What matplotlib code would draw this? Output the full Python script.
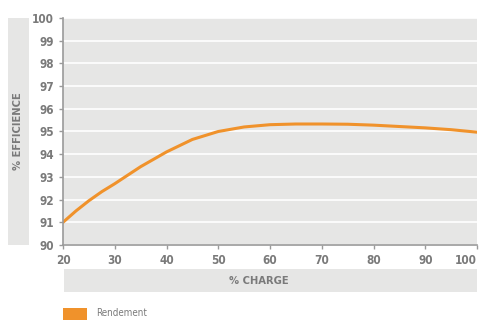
import matplotlib
matplotlib.use('Agg')
import matplotlib.pyplot as plt
from matplotlib.patches import Rectangle

# Data
charge = [20, 22.5, 25, 27.5, 30, 35, 40, 45, 50, 55, 60, 65, 70, 75, 80, 85, 90, 95, 100]
efficiency = [91.0, 91.5, 91.95, 92.35, 92.7, 93.45, 94.1, 94.65, 95.0, 95.2, 95.3, 95.33,
              95.33, 95.32, 95.28, 95.22, 95.16, 95.08, 94.97]
x_ticks = [20, 30, 40, 50, 60, 70, 80, 90, 100]
y_ticks = [90, 91, 92, 93, 94, 95, 96, 97, 98, 99, 100]
series_name = 'Rendement'

ORANGE = '#f0922b'
BG = '#e6e6e5'
TXT = '#7a7a7a'
FONT = 'DejaVu Sans'
STRETCH = 'condensed'

W, H = 479, 320
fig = plt.figure(figsize=(W / 100, H / 100), dpi=100)
fig.patch.set_facecolor('white')


def fx(px):
    return px / W


def fy(py):
    return 1 - py / H


ax = fig.add_axes([fx(63), fy(245), fx(477) - fx(63), fy(18) - fy(245)])
ax.set_facecolor(BG)
ax.plot(charge, efficiency, color=ORANGE, lw=2.2, solid_capstyle='round')

ax.set_xlim(20, 100)
ax.set_ylim(90, 100)
ax.set_xticks(x_ticks)
ax.set_yticks(y_ticks)
ax.grid(axis='y', color='white', lw=1.2)
ax.set_axisbelow(True)
for s in ['top', 'right']:
    ax.spines[s].set_visible(False)
for s in ['left', 'bottom']:
    ax.spines[s].set_color('#9a9a9a')
    ax.spines[s].set_linewidth(1.2)
ax.tick_params(colors='#9a9a9a', length=3, width=1, direction='out',
               labelcolor=TXT, labelsize=8.5)
for lab in ax.get_xticklabels() + ax.get_yticklabels():
    lab.set_family(FONT)
    lab.set_stretch(STRETCH)
    lab.set_fontweight('bold')
# last x label sits flush against the right edge
ax.get_xticklabels()[-1].set_horizontalalignment('right')

# Y label box
fig.patches.append(Rectangle((fx(8), fy(245)), fx(29) - fx(8), fy(18) - fy(245),
                             transform=fig.transFigure, facecolor=BG,
                             edgecolor='none'))
fig.text(fx(18.5), fy(131), '% EFFICIENCE', rotation=90, ha='center',
         va='center', color=TXT, fontsize=8, fontweight='bold', family=FONT,
         stretch=STRETCH)

# X label box
fig.patches.append(Rectangle((fx(64), fy(292)), fx(477) - fx(64), fy(269) - fy(292),
                             transform=fig.transFigure, facecolor=BG,
                             edgecolor='none'))
fig.text(fx(259), fy(281), '% CHARGE', ha='center', va='center', color=TXT,
         fontsize=8, fontweight='bold', family=FONT, stretch=STRETCH)

# Legend
fig.patches.append(Rectangle((fx(63), fy(320)), fx(87) - fx(63), fy(308) - fy(320),
                             transform=fig.transFigure, facecolor=ORANGE,
                             edgecolor='none'))
fig.text(fx(96), fy(313), series_name, ha='left', va='center', color=TXT,
         fontsize=7, family=FONT, stretch=STRETCH)

fig.savefig('out.png', dpi=100)
